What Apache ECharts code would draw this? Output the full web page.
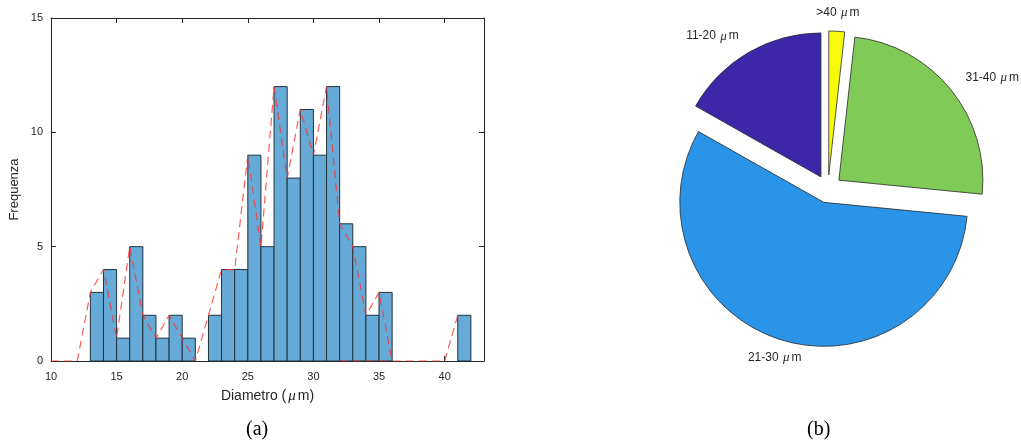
<!DOCTYPE html>
<html>
<head>
<meta charset="utf-8">
<script src="https://cdn.jsdelivr.net/npm/echarts@6/dist/echarts.min.js"></script>
<style>html,body{margin:0;padding:0;background:#fff;}#c{width:1021px;height:446px;}</style>
</head>
<body>
<div id="c"></div>
<script>
// Histogram bins (left edges, width 1) and counts
const binStarts = [13,14,15,16,17,18,19,20,21,22,23,24,25,26,27,28,29,30,31,32,33,34,35,36,37,38,39,40,41];
const binCounts = [3,4,1,5,2,1,2,1,0,2,4,4,9,5,12,8,11,9,12,6,5,2,3,0,0,0,0,0,2];
// Frequency polygon (red dashed)
const polyX = [10,11,12,13,14,15,16,17,18,19,20,21,22,23,24,25,26,27,28,29,30,31,32,33,34,35,36,37,38,39,40,41];
const polyY = [0,0,0,3,4,1,5,2,1,2,1,0,2,4,4,9,5,12,8,11,9,12,6,5,2,3,0,0,0,0,0,2];
const baseX = [32,36];
const baseY = [0,0];
// Tick labels
const xTicks = [10,15,20,25,30,35,40];
const yTicks = [0,5,10,15];
// Pie
const pieNames = ['11-20 \u03bcm','21-30 \u03bcm','31-40 \u03bcm','>40 \u03bcm'];
const pieValues = [19,64,28,2];
const pieColors = ['#3d26a8','#2994e8','#80ca58','#f8fa0e'];

const barData = binStarts.map((s,i)=>[s, s+1, binCounts[i]]).filter(d=>d[2]>0);
const polyData = polyX.map((x,i)=>[x, polyY[i]]);
const baseData = baseX.map((x,i)=>[x, baseY[i]]);

const pieCenter = [828,189];
const pieRadius = 144;
const explode = 14;
const labelRadius = 177;
// mid angles (counterclockwise from top)
const total = pieValues.reduce((a,b)=>a+b,0);
let acc = 0;
const midAngles = pieValues.map(v=>{ const m = (acc + v/2)/total*360; acc += v; return m; });

const txt = '#262626';
const font = 'Liberation Sans, Arial, sans-serif';
const serif = 'Liberation Serif, Times New Roman, serif';
const muStyle = {fontFamily:serif, fontStyle:'italic'};

// pie labels placed along each slice's bisector
const pieLabels = pieNames.map((n,i)=>{
  const a = midAngles[i]*Math.PI/180;
  const x = pieCenter[0] - labelRadius*Math.sin(a);
  const y = pieCenter[1] - labelRadius*Math.cos(a);
  let align = Math.sin(a) > 0 ? 'right' : 'left';
  if (Math.abs(Math.cos(a)) > 0.9) align = 'center';
  return {type:'text', x:x, y:y, silent:true,
    style:{text:n.replace('\u03bc','{mu|\u03bc}'), align:align, verticalAlign:'middle',
      fontFamily:font, fontSize:12, fill:txt,
      rich:{mu:Object.assign({fontSize:13, fill:txt, padding:[0,2,0,1]}, muStyle)}}};
});

const chart = echarts.init(document.getElementById('c'), null, {renderer:'canvas'});
const axisCommon = {
  type:'value', min:10, max:43, interval:5,
  axisLine:{show:true, onZero:false, lineStyle:{color:'#262626', width:1}},
  splitLine:{show:false}
};
chart.setOption({
  animation:false,
  backgroundColor:'#fff',
  grid:{left:51, top:18, width:433, height:343, containLabel:false},
  xAxis:[
    Object.assign({}, axisCommon, {
      position:'bottom',
      name:'Diametro ({mu|\u03bc}m)', nameLocation:'middle', nameGap:28,
      nameTextStyle:{fontFamily:font, fontSize:14, color:txt,
        rich:{mu:Object.assign({fontSize:15, color:txt, padding:[0,2,0,2]}, muStyle)}},
      axisTick:{show:true, inside:true, length:5, lineStyle:{color:'#262626'}},
      axisLabel:{fontFamily:font, fontSize:11, color:txt, margin:10,
        formatter:v=> xTicks.indexOf(v)>=0 ? String(v) : ''}
    }),
    Object.assign({}, axisCommon, {
      position:'top',
      axisTick:{show:true, inside:true, length:5, lineStyle:{color:'#262626'}},
      axisLabel:{show:false}
    })
  ],
  yAxis:[
    {type:'value', min:0, max:15, interval:5, position:'left',
      name:'Frequenza', nameLocation:'middle', nameGap:30, nameRotate:90,
      nameTextStyle:{fontFamily:font, fontSize:13, color:txt},
      axisLine:{show:true, lineStyle:{color:'#262626', width:1}},
      axisTick:{show:true, inside:true, length:5, lineStyle:{color:'#262626'}},
      axisLabel:{fontFamily:font, fontSize:11, color:txt, margin:8,
        formatter:v=> yTicks.indexOf(v)>=0 ? String(v) : ''},
      splitLine:{show:false}},
    {type:'value', min:0, max:15, interval:5, position:'right',
      axisLine:{show:true, lineStyle:{color:'#262626', width:1}},
      axisTick:{show:true, inside:true, length:5, lineStyle:{color:'#262626'}},
      axisLabel:{show:false}, splitLine:{show:false}}
  ],
  series:[
    {
      type:'custom', xAxisIndex:0, yAxisIndex:0,
      data:barData,
      renderItem:function(params, api){
        const p0 = api.coord([api.value(0), api.value(2)]);
        const p1 = api.coord([api.value(1), 0]);
        return {type:'rect', shape:{x:p0[0], y:p0[1], width:p1[0]-p0[0], height:p1[1]-p0[1]},
          style:{fill:'#66aad7', stroke:'#24323c', lineWidth:1}};
      },
      z:2
    },
    {
      type:'line', xAxisIndex:0, yAxisIndex:0, data:polyData, symbol:'none',
      lineStyle:{color:'rgba(255,50,50,0.8)', width:1.2, type:[8,5]}, z:3
    },
    {
      type:'line', xAxisIndex:0, yAxisIndex:0, data:baseData, symbol:'none',
      lineStyle:{color:'rgba(255,50,50,0.8)', width:1.2, type:[8,5]}, z:3
    },
    {
      type:'pie', center:pieCenter, radius:pieRadius, startAngle:90, clockwise:false,
      selectedMode:'multiple', selectedOffset:explode,
      emphasis:{disabled:true},
      itemStyle:{borderColor:'#2a2a2a', borderWidth:0.8},
      label:{show:false}, labelLine:{show:false},
      data:pieNames.map((n,i)=>({name:n, value:pieValues[i], selected:true, itemStyle:{color:pieColors[i]}}))
    }
  ],
  graphic:pieLabels.concat([
    {type:'text', left:246, top:420, style:{text:'(a)', fontFamily:serif, fontSize:20, fill:'#000'}},
    {type:'text', left:807, top:420, style:{text:'(b)', fontFamily:serif, fontSize:20, fill:'#000'}}
  ])
});
</script>
</body>
</html>
